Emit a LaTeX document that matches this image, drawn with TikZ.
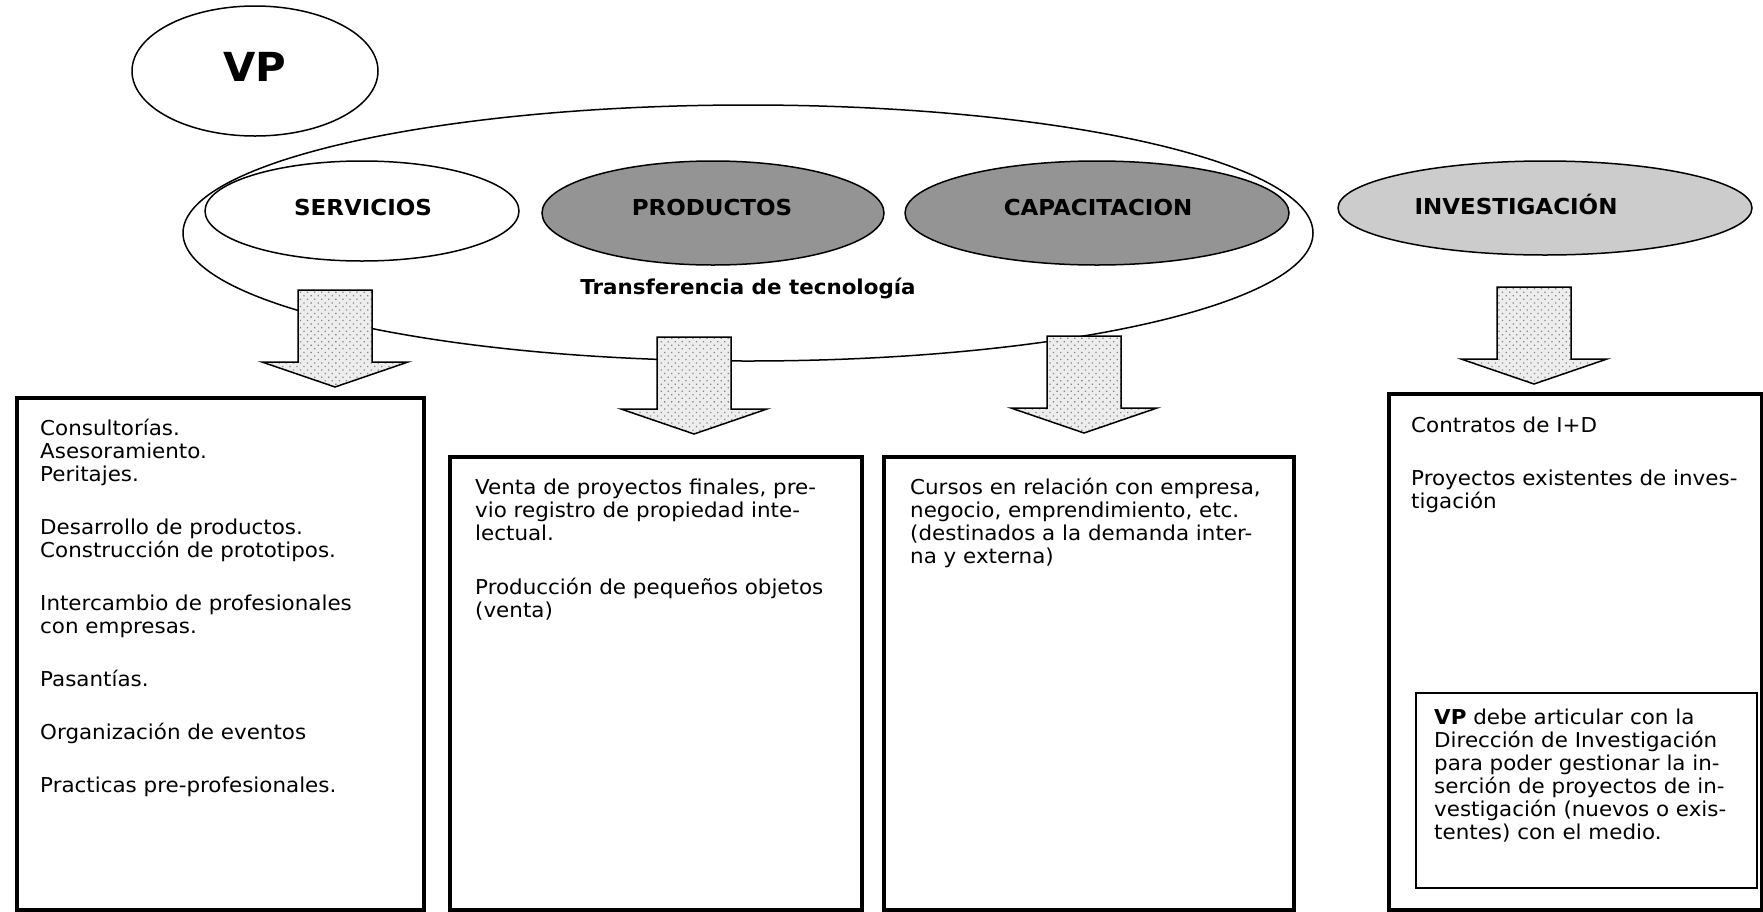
\documentclass[tikz,border=0pt]{standalone}
\usepackage{fontspec}
\setmainfont{DejaVu Sans}[FakeStretch=1.045]
\usetikzlibrary{shapes.geometric,patterns.meta}
\definecolor{darkfill}{gray}{0.58}
\definecolor{lightfill}{gray}{0.80}
\definecolor{arrowbg}{gray}{0.93}
\tikzset{
  ell/.style={ellipse, draw, line width=1.5pt, inner sep=0pt},
  titletext/.style={anchor=base, inner sep=0pt, font=\fontsize{22}{26}\selectfont\bfseries},
  box/.style={draw, line width=3.5pt, inner sep=0pt, anchor=north west},
  innerbox/.style={draw, line width=1.5pt, inner sep=0pt, anchor=north west},
  body/.style={anchor=base west, inner sep=0pt, font=\fontsize{20.5}{23}\selectfont},
  downarrow/.pic={
    \draw[line width=1.5pt, line join=miter, preaction={fill=arrowbg},
          pattern={Dots[distance=5pt,radius=0.9pt,angle=45]}, pattern color=gray!95]
      (-37,0) -- (37,0) -- (37,72) -- (73,72) -- (0,97) -- (-73,72) -- (-37,72) -- cycle;
  }
}
\begin{document}
\begin{tikzpicture}[x=1pt,y=-1pt]
\useasboundingbox (0,0) rectangle (1763,911);

% VP ellipse
\node[ell, minimum width=246pt, minimum height=130pt] (vp) at (255,71) {};
\node[anchor=base, inner sep=0pt, font=\fontsize{40}{42}\selectfont\bfseries] (vptext) at (255,81) {VP};

% big ellipse (Transferencia de tecnologia)
\node[ell, minimum width=1130pt, minimum height=256pt] (tt) at (748,233) {};
\node[anchor=base, inner sep=0pt, font=\fontsize{20.5}{24}\selectfont\bfseries] (tttext) at (748,294) {Transferencia de tecnología};

% category ellipses
\node[ell, fill=white, minimum width=314pt, minimum height=100pt] (serv) at (362,211) {};
\node[ell, fill=darkfill, minimum width=342pt, minimum height=104pt] (prod) at (713,213) {};
\node[ell, fill=darkfill, minimum width=384pt, minimum height=104pt] (capa) at (1097,213) {};
\node[ell, fill=lightfill, minimum width=414pt, minimum height=94pt] (inv) at (1545,208) {};

\node[titletext] (servt) at (363,215) {SERVICIOS};
\node[titletext] (prodt) at (712,215) {PRODUCTOS};
\node[titletext] (capat) at (1098,215) {CAPACITACION};
\node[titletext] (invt) at (1516,214) {INVESTIGACIÓN};

% block arrows
\pic at (335,290) {downarrow};
\pic at (694,337) {downarrow};
\pic at (1084,336) {downarrow};
\pic at (1534,287) {downarrow};

% boxes
\node[box, minimum width=407pt, minimum height=512pt] (b1) at (15,396) {};
\node[box, minimum width=412pt, minimum height=453pt] (b2) at (448,455) {};
\node[box, minimum width=410pt, minimum height=453pt] (b3) at (882,455) {};
\node[box, minimum width=373pt, minimum height=516pt] (b4) at (1387,392) {};
\node[innerbox, minimum width=341pt, minimum height=195pt] (b5) at (1415,692) {};

% box texts
\node[body] (t1) at (40,435.5) {\parbox[t]{370pt}{\raggedright
Consultorías.\\
Asesoramiento.\\
Peritajes.\\[30pt]
Desarrollo de productos.\\
Construcción de prototipos.\\[30pt]
Intercambio de profesionales\\
con empresas.\\[30pt]
Pasantías.\\[30pt]
Organización de eventos\\[30pt]
Practicas pre-profesionales.}};

\node[body] (t2) at (475,494) {\parbox[t]{380pt}{\raggedright
Venta de proyectos finales, pre-\\
vio registro de propiedad inte-\\
lectual.\\[31pt]
Producción de pequeños objetos\\
(venta)}};

\node[body] (t3) at (910,494) {\parbox[t]{380pt}{\raggedright
Cursos en relación con empresa,\\
negocio, emprendimiento, etc.\\
(destinados a la demanda inter-\\
na y externa)}};

\node[body] (t4) at (1411,432.5) {\parbox[t]{345pt}{\raggedright
Contratos de I+D\\[30pt]
Proyectos existentes de inves-\\
tigación}};

\node[body] (t5) at (1434,724.5) {\parbox[t]{320pt}{\raggedright
\textbf{VP} debe articular con la\\
Dirección de Investigación\\
para poder gestionar la in-\\
serción de proyectos de in-\\
vestigación (nuevos o exis-\\
tentes) con el medio.}};
\end{tikzpicture}
\end{document}
